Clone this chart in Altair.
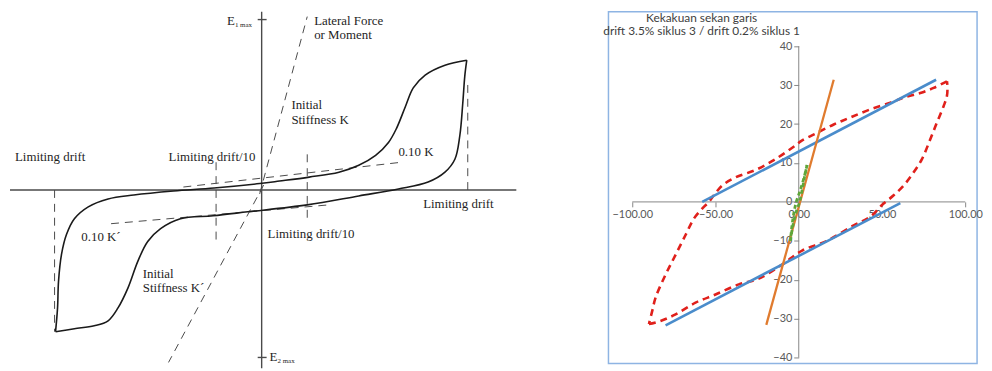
import altair as alt
import pandas as pd

# ================= LEFT PANEL (schematic) : units = drawing offsets from origin =================
loop_lower_x = [-208, -189, -169, -155, -145, -135, -125, -115, -102, -82, -49, -14, 46, 98, 138, 168, 185, 195, 200, 203, 205, 207]
loop_lower_y = [-143, -140, -137, -132, -119, -99, -72, -52, -39, -29, -26, -22, -15, -6, 1, 8, 18, 31, 55, 88, 115, 131]
loop_upper_x = [207, 185, 165, 153, 145, 136, 128, 115, 98, 78, 48, 18, -2, -48, -89, -129, -155, -175, -189, -197, -202, -205, -206, -208]
loop_upper_y = [131, 126, 116, 103, 84, 62, 48, 35, 25, 18, 13, 9, 6.5, 2, -1, -5, -9, -17, -29, -45, -65, -92, -119, -143]

# solid reference axes of the schematic
axis_x1 = [-254, 0, -4, -4]
axis_x2 = [257, 0, 5, 5]
axis_y1 = [0, 180, 172, -169]
axis_y2 = [0, -180, 172, -169]

# dashed construction lines
dash_x1 = [-209, 208, -46, 46, -2, 2, -79, -152]
dash_y1 = [0, 0, 28, 36, -4, 5, 3, -34]
dash_x2 = [-209, 208, -46, 46, 46, -94, 141, 68]
dash_y2 = [-143, 108, -52, -32, 175, -174, 28, -15]

label_text = ["Lateral Force", "or Moment", "Initial", "Stiffness K", "Limiting drift",
              "Limiting drift/10", "0.10 K", "Limiting drift", "0.10 K\u00b4",
              "Limiting drift/10", "Initial", "Stiffness K\u00b4", "E", "E"]
label_x = [53, 53, 30, 30, -249, -94, 138, 163, -182, 6, -120, -120, -35, 8]
label_y = [171, 156, 86, 71, 33, 33, 38, -14, -47, -44, -85, -99, 171, -169]

sub_text = ["1 max", "2 max"]
sub_x = [-27, 16]
sub_y = [167, -173]

# ================= RIGHT PANEL (Excel chart) =================
chart_title = "Kekakuan sekan garis\ndrift 3.5% siklus 3 / drift 0.2% siklus 1"
x_ticks = [-100, -50, 0, 50, 100]
y_ticks = [-40, -30, -20, -10, 0, 10, 20, 30, 40]

blue_upper_x = [-58, 82.5]
blue_upper_y = [0, 31.4]
blue_lower_x = [-80, 61]
blue_lower_y = [-31.7, -0.3]

orange_x = [-19.5, 21]
orange_y = [-31.6, 31.4]

red_a_x = [89, 81, 73, 63, 55, 43, 31, 21, 9.5, 1.6, -2.4, -14, -26, -38, -46, -51, -54, -58, -63, -68, -74, -80, -86, -88, -90]
red_a_y = [31, 29.3, 28, 26.8, 25.5, 23.8, 21.7, 19.9, 17.4, 15.7, 14.4, 11, 8.2, 6.3, 4.2, 1.7, 0, -1.7, -4.3, -8.5, -13.6, -18.7, -24.6, -28, -31.4]
red_b_x = [-90, -83, -74, -62, -50, -36, -24, -10, 2, 17, 33, 43, 50, 57, 63, 69, 74, 79, 83, 87, 89, 89.3, 89]
red_b_y = [-31.4, -30.6, -28.9, -25.9, -23.8, -21.2, -19.7, -16.1, -12.5, -10, -6, -3.8, -0.8, 1.7, 4.2, 7.6, 11, 16.1, 20.4, 24.6, 27.2, 29.7, 31]

green_a_x = [-5, -3.5, -1.5, 0.5, 2, 3.5, 5]
green_a_y = [-10, -6, -2.5, 0, 3, 6.5, 9.5]
green_b_x = [5, 3, 0.5, -1.5, -3, -4.2, -5]
green_b_y = [9.5, 6, 2.5, 0, -3, -6.5, -10]

# ---------------- build left panel ----------------
LX = alt.Scale(domain=[-254, 258], nice=False, zero=False)
LY = alt.Scale(domain=[-175, 180], nice=False, zero=False)


def branch_df(xs_list, ys_list):
    rows = []
    for b, (xs, ys) in enumerate(zip(xs_list, ys_list)):
        for i, (x, y) in enumerate(zip(xs, ys)):
            rows.append({"branch": b, "order": i, "x": x, "y": y})
    return pd.DataFrame(rows)


axes_df = pd.DataFrame({"x": axis_x1, "x2": axis_x2, "y": axis_y1, "y2": axis_y2})
dash_df = pd.DataFrame({"x": dash_x1, "x2": dash_x2, "y": dash_y1, "y2": dash_y2})
loop_df = branch_df([loop_lower_x, loop_upper_x], [loop_lower_y, loop_upper_y])
lab_df = pd.DataFrame({"t": label_text, "x": label_x, "y": label_y})
sub_df = pd.DataFrame({"t": sub_text, "x": sub_x, "y": sub_y})

l_axes = alt.Chart(axes_df).mark_rule(color="#4a4a4a", strokeWidth=1.4).encode(
    x=alt.X("x:Q", scale=LX, axis=None), x2="x2:Q",
    y=alt.Y("y:Q", scale=LY, axis=None), y2="y2:Q")
l_dash = alt.Chart(dash_df).mark_rule(color="#4a4a4a", strokeWidth=1, strokeDash=[8, 6]).encode(
    x=alt.X("x:Q", scale=LX, axis=None), x2="x2:Q",
    y=alt.Y("y:Q", scale=LY, axis=None), y2="y2:Q")
l_loop = alt.Chart(loop_df).mark_line(color="#1a1a1a", strokeWidth=1.6, interpolate="catmull-rom").encode(
    x=alt.X("x:Q", scale=LX, axis=None), y=alt.Y("y:Q", scale=LY, axis=None),
    detail="branch:N", order="order:Q")
l_text = alt.Chart(lab_df).mark_text(font="Liberation Serif", fontSize=13, color="#1e1e1e",
                                     align="left", baseline="middle").encode(
    x=alt.X("x:Q", scale=LX, axis=None), y=alt.Y("y:Q", scale=LY, axis=None), text="t:N")
l_sub = alt.Chart(sub_df).mark_text(font="Liberation Serif", fontSize=7, color="#1e1e1e",
                                    align="left", baseline="middle").encode(
    x=alt.X("x:Q", scale=LX, axis=None), y=alt.Y("y:Q", scale=LY, axis=None), text="t:N")

left = alt.layer(l_axes, l_dash, l_loop, l_text, l_sub).properties(
    width=512, height=355, view=alt.ViewBackground(stroke="transparent"))

# ---------------- build right panel ----------------
RX = alt.Scale(domain=[-114.3, 107.1], nice=False, zero=False)
RY = alt.Scale(domain=[-41.5, 48.9], nice=False, zero=False)
FONT = "Lato"

x_axis = alt.Axis(values=x_ticks, format=".2f", domain=False, grid=False, tickColor="#868686",
                  tickSize=5, labelColor="#595959", labelFont=FONT, labelFontSize=11,
                  labelPadding=2, offset=-163, title=None, labelOverlap=False)
y_axis = alt.Axis(values=y_ticks, format="d", domain=False, grid=False, tickColor="#868686",
                  tickSize=5, labelColor="#595959", labelFont=FONT, labelFontSize=11,
                  labelPadding=2, offset=-192, title=None, labelOverlap=False)

r_axes_df = pd.DataFrame({"x": [x_ticks[0], 0], "x2": [x_ticks[-1], 0],
                          "y": [0, y_ticks[0]], "y2": [0, y_ticks[-1]]})
r_axes = alt.Chart(r_axes_df).mark_rule(color="#868686", strokeWidth=1).encode(
    x=alt.X("x:Q", scale=RX, axis=x_axis), x2="x2:Q",
    y=alt.Y("y:Q", scale=RY, axis=y_axis), y2="y2:Q")

red_df = branch_df([red_a_x, red_b_x], [red_a_y, red_b_y])
blue_df = branch_df([blue_upper_x, blue_lower_x], [blue_upper_y, blue_lower_y])
orange_df = branch_df([orange_x], [orange_y])
green_df = branch_df([green_a_x, green_b_x], [green_a_y, green_b_y])


def series(df, color, width, dash=None, interp="linear"):
    kw = dict(color=color, strokeWidth=width, interpolate=interp, clip=True)
    if dash:
        kw["strokeDash"] = dash
    return alt.Chart(df).mark_line(**kw).encode(
        x=alt.X("x:Q", scale=RX), y=alt.Y("y:Q", scale=RY),
        detail="branch:N", order="order:Q")


r_red = series(red_df, "#E0201B", 2.6, [7, 5], "catmull-rom")
r_blue = series(blue_df, "#4A8CCB", 2.6)
r_orange = series(orange_df, "#E07B2E", 2.3)
r_green = series(green_df, "#5FA63A", 2.8, [4, 3], "catmull-rom")

r_title = alt.Chart(pd.DataFrame({"t": [chart_title]})).mark_text(
    font=FONT, fontSize=12, color="#404040", align="center", baseline="top",
    lineBreak="\n", lineHeight=14).encode(text="t:N", x=alt.value(94), y=alt.value(1))

right = alt.layer(r_axes, r_red, r_blue, r_orange, r_green, r_title).properties(
    width=372, height=355, view=alt.ViewBackground(stroke="#8EB4E3", strokeWidth=1.5))

chart = alt.hconcat(left, right, spacing=92, bounds="flush").properties(
    padding=0).configure_view(strokeWidth=1.5)

chart.save("out.html", embed_options={"renderer": "svg", "actions": False})
